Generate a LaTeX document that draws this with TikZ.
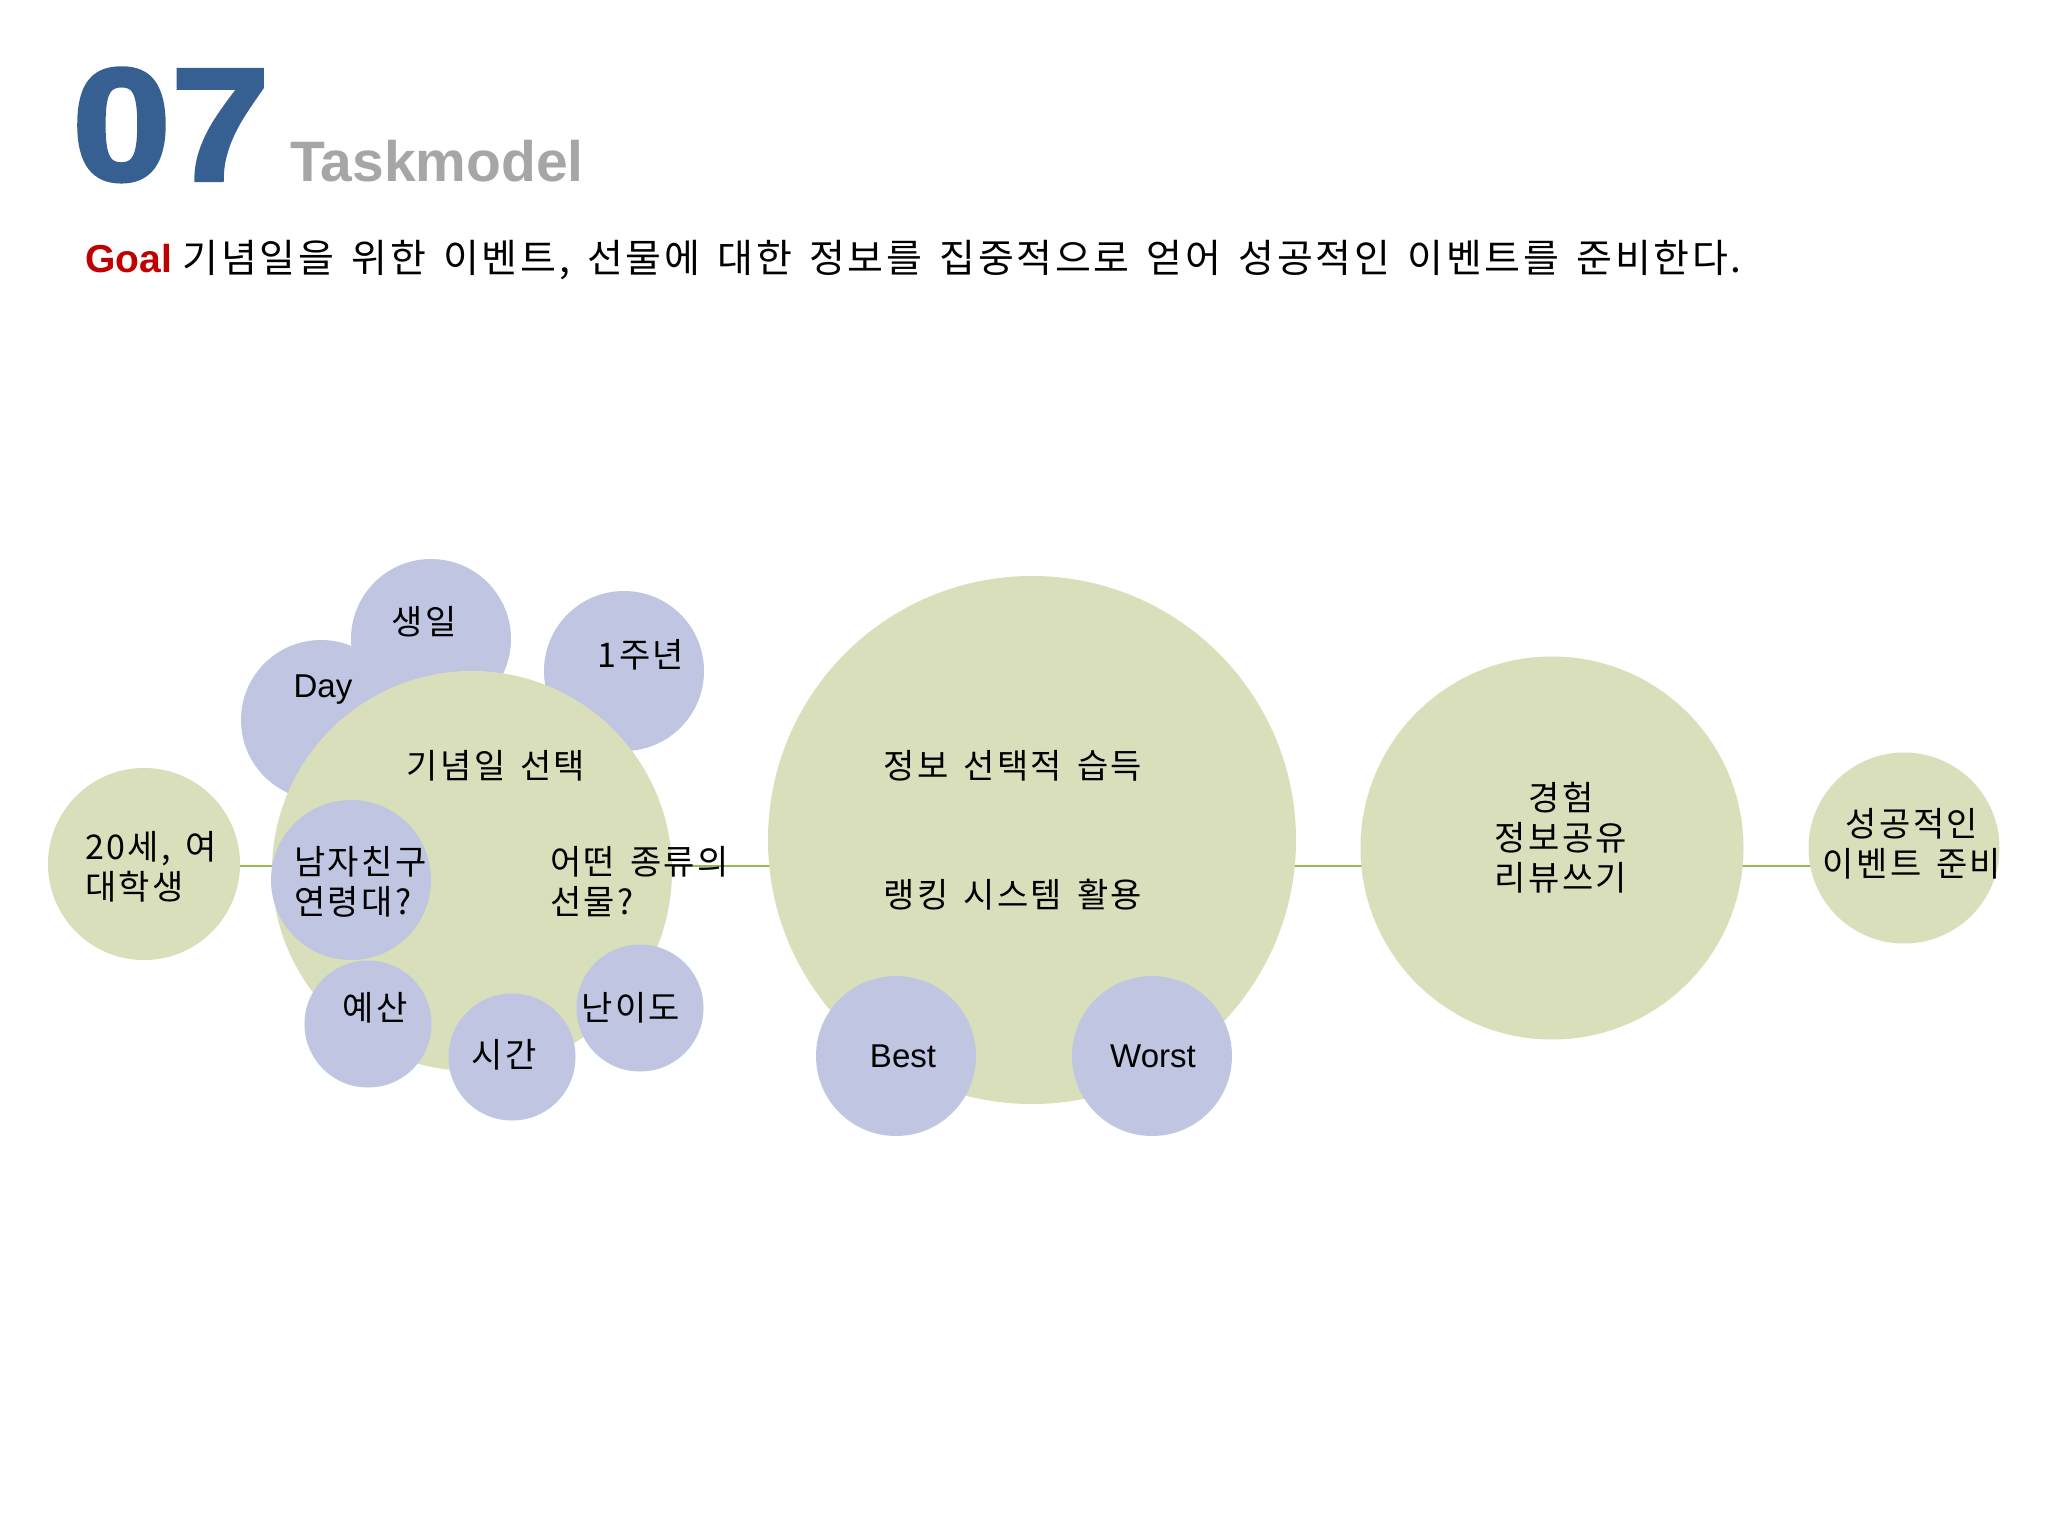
\documentclass[tikz,border=0pt]{standalone}
\usepackage{fontspec}
\setmainfont{Liberation Sans}
\newfontfamily\kr[LetterSpace=7,WordSpace=1.5]{Noto Sans CJK KR}
\newfontfamily\heavy[FakeBold=2.5,FakeStretch=1.11]{Liberation Sans Bold}
\usetikzlibrary{backgrounds}
\definecolor{gfill}{RGB}{216,223,186}
\definecolor{bfill}{RGB}{192,197,226}
\definecolor{lnk}{RGB}{152,184,86}
\definecolor{titleblue}{RGB}{55,96,146}
\definecolor{titlegray}{RGB}{166,166,166}
\definecolor{goalred}{RGB}{192,0,0}
\begin{document}
\begin{tikzpicture}[x=1pt,y=-1pt,
  gcirc/.style={circle,fill=gfill,draw=none,inner sep=0pt,minimum size=#1},
  bcirc/.style={circle,fill=bfill,draw=none,inner sep=0pt,minimum size=#1},
  lbl/.style={font=\kr\fontsize{34}{40}\selectfont,text=black,inner sep=0pt,align=center},
  lbll/.style={font=\kr\fontsize{34}{40}\selectfont,text=black,inner sep=0pt,align=left,anchor=west},
  lat/.style={font=\fontsize{33}{40}\selectfont,text=black,inner sep=0pt},
  link/.style={draw=lnk,line width=2pt}]
\useasboundingbox (0,0) rectangle (2048,1536);

% title
\node[anchor=base west,inner sep=0pt,text=titleblue,font=\heavy\fontsize{160}{160}\selectfont] (num) at (72,180) {07};
\node[anchor=base west,inner sep=0pt,text=titlegray,font=\bfseries\fontsize{57}{57}\selectfont] (ttl) at (290,181) {Taskmodel};
\node[anchor=base west,inner sep=0pt,font=\fontsize{39}{39}\selectfont] (goal) at (85,272)
  {{\bfseries\color{goalred}Goal} {\kr 기념일을 위한 이벤트, 선물에 대한 정보를 집중적으로 얻어 성공적인 이벤트를 준비한다.}};

% circles (back to front)
\node[bcirc=160pt] (cDay) at (321,720) {};
\node[bcirc=160pt] (cBirth) at (431,639) {};
\node[bcirc=160pt] (cAnniv) at (624,671) {};
\node[gcirc=400pt] (cSel) at (472,871) {};
\node[bcirc=160pt] (cBoy) at (351,880) {};
\node[bcirc=127pt] (cBudget) at (368,1024) {};
\node[bcirc=127pt] (cTime) at (512,1057) {};
\node[bcirc=127pt] (cDiff) at (640,1008) {};
\node[gcirc=192pt] (cUser) at (144,864) {};
\node[gcirc=528pt] (cInfo) at (1032,840) {};
\node[bcirc=160pt] (cBest) at (896,1056) {};
\node[bcirc=160pt] (cWorst) at (1152,1056) {};
\node[gcirc=383pt] (cExp) at (1552,848) {};
\node[gcirc=191pt] (cGoal) at (1904,848) {};

% connectors behind the circles
\coordinate (axis) at (0,866);
\begin{pgfonlayer}{background}
  \fill[white] (0,0) rectangle (2048,1536);
  \draw[link] (cUser.center |- axis) -- (cSel.center |- axis);
  \draw[link] (cSel.center |- axis) -- (cInfo.center |- axis);
  \draw[link] (cInfo.center |- axis) -- (cExp.center |- axis);
  \draw[link] (cExp.center |- axis) -- (cGoal.center |- axis);
\end{pgfonlayer}

% labels
\node[lbll] (tUser) at (85,867) {20세, 여\\대학생};
\node[lat] (tDay) at (323,690) {Day};
\node[lbl] (tBirth) at (424,622) {생일};
\node[lbl] (tAnniv) at (641,655) {1주년};
\node[lbl] (tSel) at (496,766) {기념일 선택};
\node[lbll] (tBoy) at (294,882) {남자친구\\연령대?};
\node[lbll] (tKind) at (550,882) {어떤 종류의\\선물?};
\node[lbl] (tBudget) at (375,1008) {예산};
\node[lbl] (tTime) at (504,1055) {시간};
\node[lbl] (tDiff) at (631,1008) {난이도};
\node[lbl] (tInfo) at (1013,766) {정보 선택적 습득};
\node[lbl] (tRank) at (1013,895) {랭킹 시스템 활용};
\node[lat] (tBest) at (903,1056) {Best};
\node[lat] (tWorst) at (1153,1056) {Worst};
\node[lbl] (tExp) at (1561,838) {경험\\정보공유\\리뷰쓰기};
\node[lbl] (tGoal) at (1912,844) {성공적인\\이벤트 준비};
\end{tikzpicture}
\end{document}
